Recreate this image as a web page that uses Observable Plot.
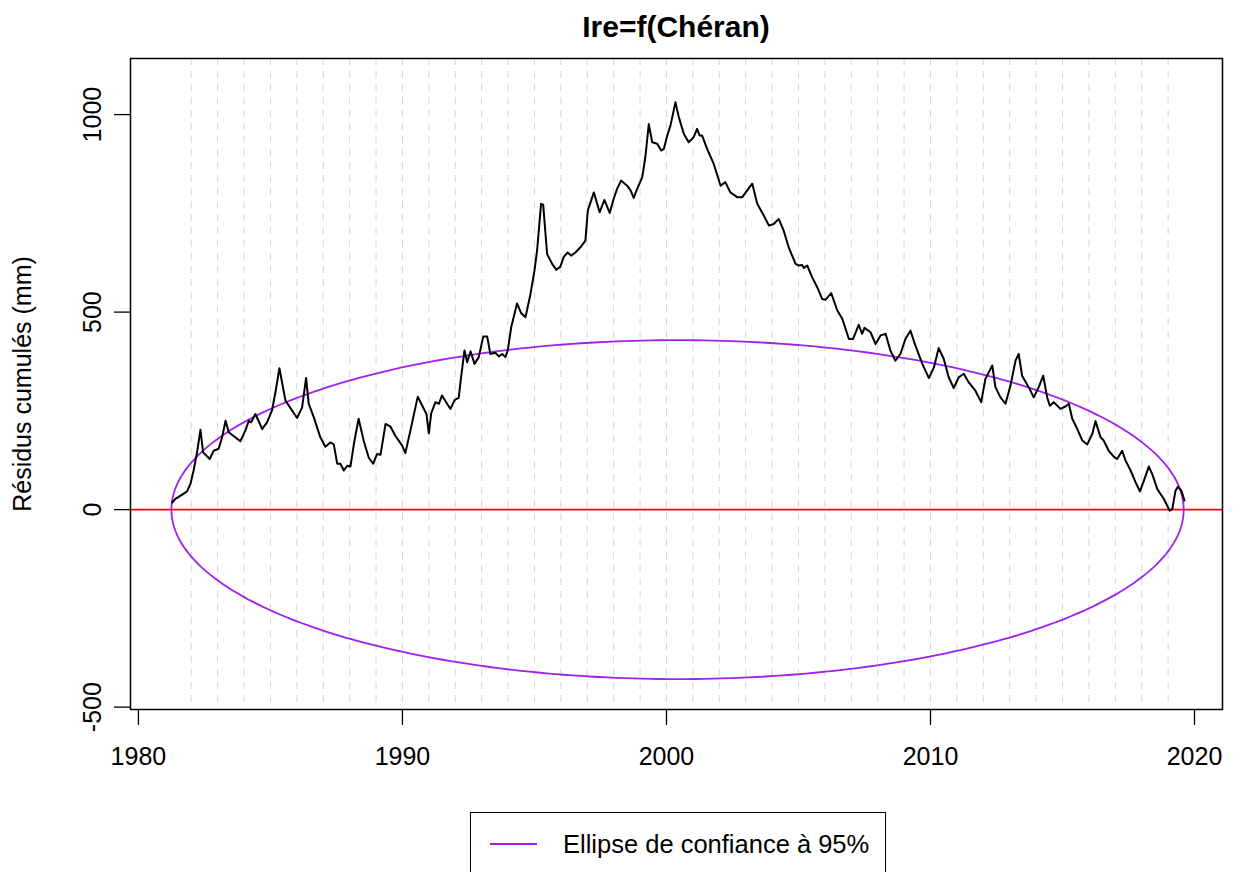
<!DOCTYPE html>
<html>
<head>
<meta charset="utf-8">
<script src="https://cdn.jsdelivr.net/npm/d3@7"></script>
<script src="https://cdn.jsdelivr.net/npm/@observablehq/plot@0.6"></script>
<style>
  body { margin: 0; background: #fff; font-family: "Liberation Sans", Arial, sans-serif; }
  #wrap { width: 1234px; height: 872px; overflow: hidden; position: relative; background: #fff; }
  #title { height: 50px; line-height: 54px; padding: 0 12px 0 130px; text-align: center; font-weight: bold; font-size: 30px; color: #000; }
  #legend { position: absolute; left: 470px; top: 812px; width: 416px; height: 80px; border: 1.5px solid #000; box-sizing: border-box; background: #fff; }
  #legend .swatch { position: absolute; left: 19px; top: 30px; width: 47px; height: 0; border-top: 2px solid #A020F0; }
  #legend .label { position: absolute; left: 92px; top: 31px; transform: translateY(-50%); font-size: 25.5px; white-space: nowrap; color: #000; }
</style>
</head>
<body>
<div id="wrap">
  <div id="title">Ire=f(Chéran)</div>
  <div id="chart"></div>
  <div id="legend"><span class="swatch"></span><span class="label">Ellipse de confiance à 95%</span></div>
</div>
<script>
// ---- Data ----
const years = [
  1981.28, 1981.40, 1981.66, 1981.84, 1981.97, 1982.09, 1982.22, 1982.35, 1982.45, 1982.70,
  1982.85, 1983.04, 1983.17, 1983.30, 1983.42, 1983.86, 1984.05, 1984.18, 1984.27, 1984.43,
  1984.69, 1984.87, 1985.06, 1985.19, 1985.34, 1985.57, 1986.01, 1986.20, 1986.35, 1986.45,
  1986.64, 1986.89, 1987.08, 1987.27, 1987.40, 1987.53, 1987.65, 1987.78, 1987.91, 1988.03,
  1988.16, 1988.34, 1988.53, 1988.72, 1988.89, 1989.04, 1989.17, 1989.36, 1989.55, 1989.73,
  1989.99, 1990.11, 1990.30, 1990.58, 1990.75, 1990.91, 1991.00, 1991.09, 1991.25, 1991.38,
  1991.50, 1991.69, 1991.82, 1991.98, 1992.13, 1992.22, 1992.35, 1992.45, 1992.58, 1992.73,
  1992.89, 1993.06, 1993.21, 1993.33, 1993.52, 1993.65, 1993.78, 1993.90, 1993.99, 1994.12,
  1994.34, 1994.50, 1994.66, 1994.85, 1995.00, 1995.10, 1995.25, 1995.33, 1995.48, 1995.67,
  1995.83, 1995.98, 1996.11, 1996.26, 1996.39, 1996.55, 1996.74, 1996.93, 1997.02, 1997.25,
  1997.47, 1997.65, 1997.85, 1998.00, 1998.13, 1998.28, 1998.51, 1998.64, 1998.76, 1998.89,
  1999.08, 1999.20, 1999.33, 1999.46, 1999.65, 1999.80, 1999.90, 2000.03, 2000.15, 2000.34,
  2000.47, 2000.66, 2000.84, 2001.03, 2001.16, 2001.26, 2001.35, 2001.54, 2001.79, 2002.05,
  2002.23, 2002.42, 2002.68, 2002.87, 2003.06, 2003.25, 2003.44, 2003.69, 2003.88, 2004.06,
  2004.25, 2004.44, 2004.63, 2004.89, 2005.01, 2005.14, 2005.20, 2005.33, 2005.52, 2005.71,
  2005.90, 2006.02, 2006.24, 2006.47, 2006.66, 2006.91, 2007.07, 2007.28, 2007.41, 2007.50,
  2007.73, 2007.92, 2008.11, 2008.30, 2008.48, 2008.67, 2008.86, 2009.05, 2009.24, 2009.43,
  2009.69, 2009.94, 2010.13, 2010.31, 2010.50, 2010.69, 2010.88, 2011.07, 2011.26, 2011.45,
  2011.70, 2011.92, 2012.08, 2012.34, 2012.46, 2012.65, 2012.84, 2013.03, 2013.22, 2013.34,
  2013.47, 2013.72, 2013.91, 2014.10, 2014.27, 2014.42, 2014.52, 2014.67, 2014.92, 2015.11,
  2015.24, 2015.37, 2015.56, 2015.75, 2015.94, 2016.13, 2016.25, 2016.44, 2016.56, 2016.75,
  2016.94, 2017.07, 2017.26, 2017.39, 2017.58, 2017.77, 2017.93, 2018.08, 2018.27, 2018.40,
  2018.59, 2018.84, 2019.06, 2019.16, 2019.28, 2019.37, 2019.50, 2019.62
];
const residus = [
  18, 27, 38, 46, 65, 99, 145, 202, 145, 128,
  149, 154, 183, 225, 196, 173, 200, 225, 221, 242,
  204, 221, 251, 297, 358, 276, 232, 259, 333, 268,
  234, 183, 159, 170, 165, 116, 116, 99, 111, 109,
  166, 230, 175, 132, 116, 141, 139, 217, 210, 187,
  162, 143, 200, 286, 263, 242, 193, 244, 272, 268,
  289, 268, 255, 278, 283, 335, 403, 373, 401, 369,
  386, 438, 438, 394, 397, 388, 394, 386, 403, 462,
  522, 497, 487, 546, 605, 656, 774, 772, 647, 622,
  607, 615, 640, 651, 643, 651, 664, 681, 757, 803,
  753, 784, 751, 787, 812, 833, 820, 808, 789, 812,
  841, 892, 976, 930, 926, 909, 913, 947, 972, 1031,
  993, 951, 930, 943, 964, 947, 947, 913, 875, 820,
  829, 803, 791, 791, 808, 825, 774, 744, 719, 723,
  736, 706, 664, 622, 618, 619, 612, 618, 588, 563,
  533, 531, 548, 504, 483, 432, 432, 468, 445, 460,
  449, 419, 441, 445, 403, 377, 394, 432, 453, 415,
  369, 333, 360, 409, 382, 335, 308, 335, 344, 322,
  301, 272, 331, 365, 310, 284, 268, 314, 377, 394,
  339, 310, 284, 310, 339, 284, 263, 272, 255, 261,
  268, 230, 204, 175, 165, 192, 224, 183, 175, 149,
  134, 128, 149, 124, 99, 69, 46, 73, 109, 90,
  52, 27, -3, 2, 48, 58, 48, 23
];
const gridYears = d3.range(1982, 2020);        // annual dashed lines
const xTicks = [1980, 1990, 2000, 2010, 2020];
const yTicks = [-500, 0, 500, 1000];
// 95% confidence ellipse parameters
const ellipseCenterX = 2000.42;
const ellipseHalfWidth = 19.17;   // years
const ellipseHalfHeight = 429;    // mm

// ---- Derived tables ----
const series = years.map((y, i) => ({year: y, value: residus[i]}));
const ellipse = d3.range(0, 361).map(deg => {
  const t = deg * Math.PI / 180;
  return {x: ellipseCenterX + ellipseHalfWidth * Math.cos(t), y: ellipseHalfHeight * Math.sin(t)};
});

const FONT = '"Liberation Sans", Arial, sans-serif';

const chart = Plot.plot({
  width: 1234,
  height: 750,
  marginLeft: 130,
  marginRight: 12,
  marginTop: 8,
  marginBottom: 91,
  x: {domain: [1979.70, 2021.06], label: null},
  y: {domain: [-506, 1142], label: null},
  style: {fontFamily: FONT, fontSize: "25px", color: "black", background: "white", overflow: "visible"},
  marks: [
    Plot.ruleX(gridYears, {stroke: "#d6d6d6", strokeWidth: 1, strokeDasharray: "7,6"}),
    Plot.ruleY([0], {stroke: "#ff0000", strokeWidth: 1.6}),
    Plot.line(ellipse, {x: "x", y: "y", stroke: "#A020F0", strokeWidth: 1.8}),
    Plot.line(series, {x: "year", y: "value", stroke: "black", strokeWidth: 2, strokeLinejoin: "round"}),
    Plot.frame({stroke: "black", strokeWidth: 1.5}),
    Plot.axisX(xTicks, {anchor: "bottom", tickSize: 16, tickPadding: 22, fontSize: 25, tickFormat: d => String(d), label: null, strokeWidth: 1.3}),
    Plot.axisY(yTicks, {anchor: "left", tickSize: 16, tickPadding: 14, tickRotate: -90, fontSize: 25, tickFormat: d => String(d), label: null, strokeWidth: 1.3}),
    Plot.text(["Résidus cumulés (mm)"], {frameAnchor: "left", dx: -108, rotate: -90, fontSize: 25, textAnchor: "middle", lineAnchor: "middle"})
  ]
});
document.getElementById("chart").appendChild(chart);
</script>
</body>
</html>
